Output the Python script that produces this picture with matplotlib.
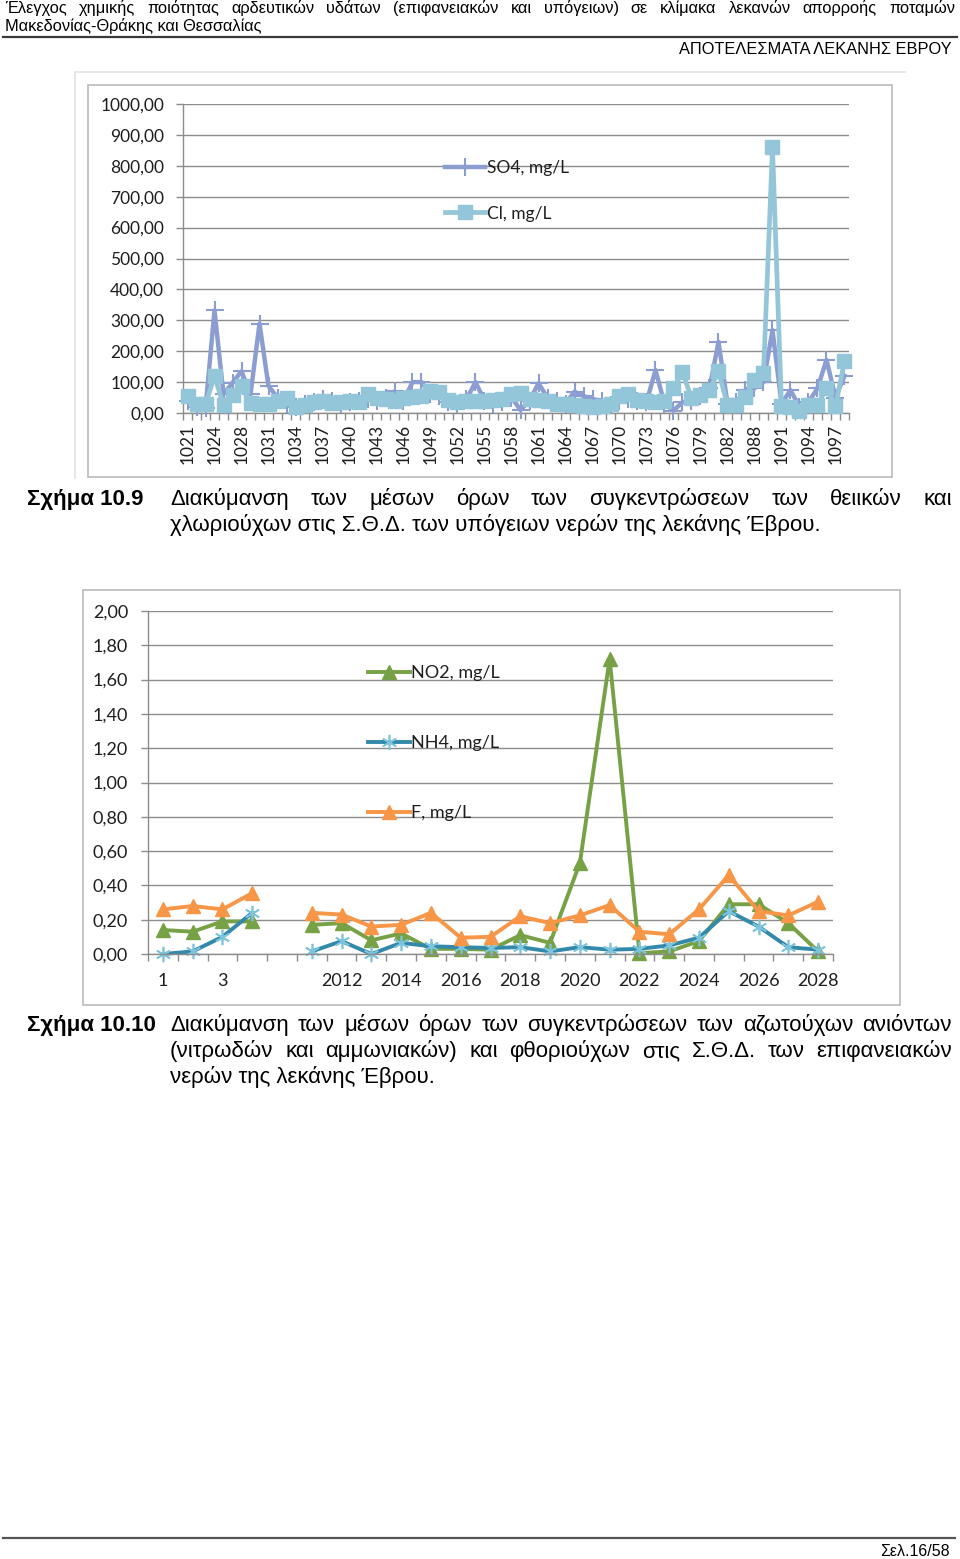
import numpy as np
import matplotlib
matplotlib.use('Agg')
import matplotlib.pyplot as plt
from matplotlib.patches import Rectangle
from matplotlib.lines import Line2D

W, H = 960, 1559

# --- Σχήμα 10.9 : Σ.Θ.Δ. υπόγειων νερών ---
stations = [1021, 1022, 1023, 1024, 1026, 1027] + list(range(1028, 1083)) + [1084, 1086] + list(range(1088, 1099))
so4 = [40, 20, 15, 332, 60, 98, 135, 60, 289, 87,
       50, 30, 20, 30, 35, 45, 40, 30, 35, 38,
       45, 40, 50, 70, 40, 100, 100, 60, 55, 35,
       30, 45, 100, 40, 30, 35, 50, 10, 40, 96,
       50, 40, 30, 69, 55, 45, 40, 25, 40, 45,
       40, 35, 139, 30, 8, 35, 40, 55, 80, 230,
       30, 35, 75, 80, 100, 268, 30, 74, 20, 35,
       80, 172, 50, 120]
cl = [55, 30, 28, 120, 25, 58, 88, 32, 30, 30,
      38, 50, 18, 25, 35, 40, 32, 35, 40, 36,
      62, 50, 45, 38, 48, 52, 55, 72, 68, 42,
      36, 38, 40, 38, 42, 45, 62, 65, 45, 42,
      40, 30, 28, 25, 24, 20, 22, 28, 55, 62,
      42, 38, 36, 38, 80, 133, 47, 58, 74, 135,
      26, 26, 53, 108, 130, 860, 22, 20, 8, 26,
      26, 80, 22, 168]

# --- Σχήμα 10.10 : Σ.Θ.Δ. επιφανειακών νερών ---
years = ['1', '2', '3', '4', ''] + [str(y) for y in range(2011, 2029)]
no2 = [0.14, 0.13, 0.19, 0.19, np.nan,
       0.17, 0.18, 0.08, 0.12, 0.03, 0.03, 0.025, 0.11, 0.065, 0.53,
       1.72, 0.005, 0.015, 0.075, 0.29, 0.29, 0.18, 0.015]
nh4 = [0.0, 0.015, 0.10, 0.24, np.nan,
       0.015, 0.075, 0.0, 0.065, 0.045, 0.04, 0.035, 0.04, 0.015, 0.04,
       0.025, 0.03, 0.05, 0.095, 0.25, 0.16, 0.04, 0.025]
f_ = [0.26, 0.28, 0.26, 0.355, np.nan,
      0.24, 0.23, 0.16, 0.17, 0.24, 0.095, 0.10, 0.22, 0.18, 0.225,
      0.285, 0.13, 0.115, 0.26, 0.46, 0.25, 0.225, 0.305]

page_font = ['Liberation Sans', 'DejaVu Sans']
chart_font = ['Lato', 'DejaVu Sans']
grid_c = '#8C8C8C'
txt_c = '#1E1E1E'

fig = plt.figure(figsize=(W / 100, H / 100), dpi=100)


def fx(x):
    return x / W


def fy(y):
    return 1 - y / H


def ptext(x, y, s, size, **kw):
    return fig.text(fx(x), fy(y), s, fontsize=size, family=page_font, va='baseline', color='black', **kw)


def justify(line, x0, x1, y, size, **kw):
    ts = [ptext(x0, y, w, size, **kw) for w in line.split()]
    r = fig.canvas.get_renderer()
    widths = [t.get_window_extent(r).width for t in ts]
    gap = (x1 - x0 - sum(widths)) / (len(ts) - 1)
    x = x0
    for t, w in zip(ts, widths):
        t.set_x(fx(x))
        x += w + gap


def frame(x0, y0, x1, y1, c='#BFBFBF'):
    fig.add_artist(Rectangle((fx(x0), fy(y1)), (x1 - x0) / W, (y1 - y0) / H,
                             transform=fig.transFigure, fill=False, ec=c, lw=1.3))


def hline(x0, x1, y, c, lw):
    fig.add_artist(Line2D([fx(x0), fx(x1)], [fy(y), fy(y)], transform=fig.transFigure, color=c, lw=lw))


def style_axes(ax, n, yticks, labels_idx, labels, rot, ypad, xpad, size):
    ax.set_xlim(-0.5, n - 0.5)
    ax.set_yticks(yticks)
    ax.set_yticklabels([f'{v:.2f}'.replace('.', ',') for v in yticks], family=chart_font, fontsize=size, color=txt_c)
    ax.set_xticks(labels_idx)
    ax.set_xticklabels(labels, rotation=rot, family=chart_font, fontsize=size, color=txt_c)
    ax.set_xticks(np.arange(-0.5, n), minor=True)
    ax.tick_params(axis='x', which='major', length=0, pad=xpad)
    ax.tick_params(axis='x', which='minor', length=5, color=grid_c, width=1)
    ax.tick_params(axis='y', length=5, color=grid_c, width=1, pad=ypad)
    ax.grid(axis='y', color=grid_c, lw=1)
    ax.set_axisbelow(True)
    for s in ['top', 'right']:
        ax.spines[s].set_visible(False)
    for s in ['left', 'bottom']:
        ax.spines[s].set_color(grid_c)
        ax.spines[s].set_linewidth(1)


# header
justify('Έλεγχος χημικής ποιότητας αρδευτικών υδάτων (επιφανειακών και υπόγειων) σε κλίμακα λεκανών απορροής ποταμών',
        5, 955, 13, 11.8)
ptext(5, 31, 'Μακεδονίας-Θράκης και Θεσσαλίας', 11.8)
hline(3, 957, 37, '#3A3A3A', 1.6)
ptext(952, 54, 'ΑΠΟΤΕΛΕΣΜΑΤΑ ΛΕΚΑΝΗΣ ΕΒΡΟΥ', 11.8, ha='right')

# chart 1
hline(75, 905, 72, '#E3E3E3', 1.2)
fig.add_artist(Line2D([fx(75), fx(75)], [fy(72), fy(478)], transform=fig.transFigure, color='#E3E3E3', lw=1.2))
frame(88, 85, 892, 477)
ax1 = fig.add_axes([fx(183), fy(413), 666 / W, 309 / H])
x1 = np.arange(len(stations))
ax1.plot(x1, so4, color='#8C9ED1', lw=3.2, marker='+', ms=13, mew=1.5, label='SO4, mg/L', zorder=3, clip_on=False)
ax1.plot(x1, cl, color='#93C6D8', lw=3.4, marker='s', ms=10, label='Cl, mg/L', zorder=4, clip_on=False)
ax1.set_ylim(0, 1000)
style_axes(ax1, len(stations), np.arange(0, 1001, 100), x1[::3], [str(s) for s in stations[::3]],
           90, 8.5, 8, 12.5)
fig.legend(*ax1.get_legend_handles_labels(), loc='upper left', bbox_to_anchor=(fx(445), fy(160)),
           frameon=False, prop={'family': chart_font, 'size': 12.5}, handlelength=2.3, labelspacing=1.7,
           handletextpad=0.1, borderpad=0, borderaxespad=0, labelcolor=txt_c)

ptext(27, 505, 'Σχήμα 10.9', 16, weight='bold')
justify('Διακύμανση των μέσων όρων των συγκεντρώσεων των θειικών και', 170, 952, 505, 16)
ptext(170, 531, 'χλωριούχων στις Σ.Θ.Δ. των υπόγειων νερών της λεκάνης Έβρου.', 16)

# chart 2
frame(83, 590, 900, 1005)
ax2 = fig.add_axes([fx(148), fy(954), 685 / W, 343 / H])
x2 = np.arange(len(years))
ax2.plot(x2, no2, color='#77A145', lw=2.8, marker='^', ms=10, label='NO2, mg/L', clip_on=False)
ax2.plot(x2, nh4, color='#3389A9', lw=2.8, marker=(6, 2, 0), ms=11, mec='#7CC4DC', mew=1.2,
         label='NH4, mg/L', clip_on=False)
ax2.plot(x2, f_, color='#F79646', lw=2.8, marker='^', ms=10, label='F, mg/L', clip_on=False)
ax2.set_ylim(0, 2)
style_axes(ax2, len(years), np.round(np.arange(0, 2.01, 0.2), 2), x2[::2], years[::2], 0, 9.4, 14, 13)
fig.legend(*ax2.get_legend_handles_labels(), loc='upper left', bbox_to_anchor=(fx(368), fy(665)),
           frameon=False, prop={'family': chart_font, 'size': 13}, handlelength=2.3, labelspacing=3.0,
           handletextpad=0.1, borderpad=0, borderaxespad=0, labelcolor=txt_c)

ptext(27, 1031, 'Σχήμα 10.10', 16, weight='bold')
justify('Διακύμανση των μέσων όρων των συγκεντρώσεων των αζωτούχων ανιόντων', 170, 952, 1031, 16)
justify('(νιτρωδών και αμμωνιακών) και φθοριούχων στις Σ.Θ.Δ. των επιφανειακών', 170, 952, 1057, 16)
ptext(170, 1083, 'νερών της λεκάνης Έβρου.', 16)

# footer
hline(3, 955, 1538, '#555555', 1.6)
ptext(950, 1556, 'Σελ.16/58', 11.5, ha='right')

fig.savefig('out.png', dpi=100)
